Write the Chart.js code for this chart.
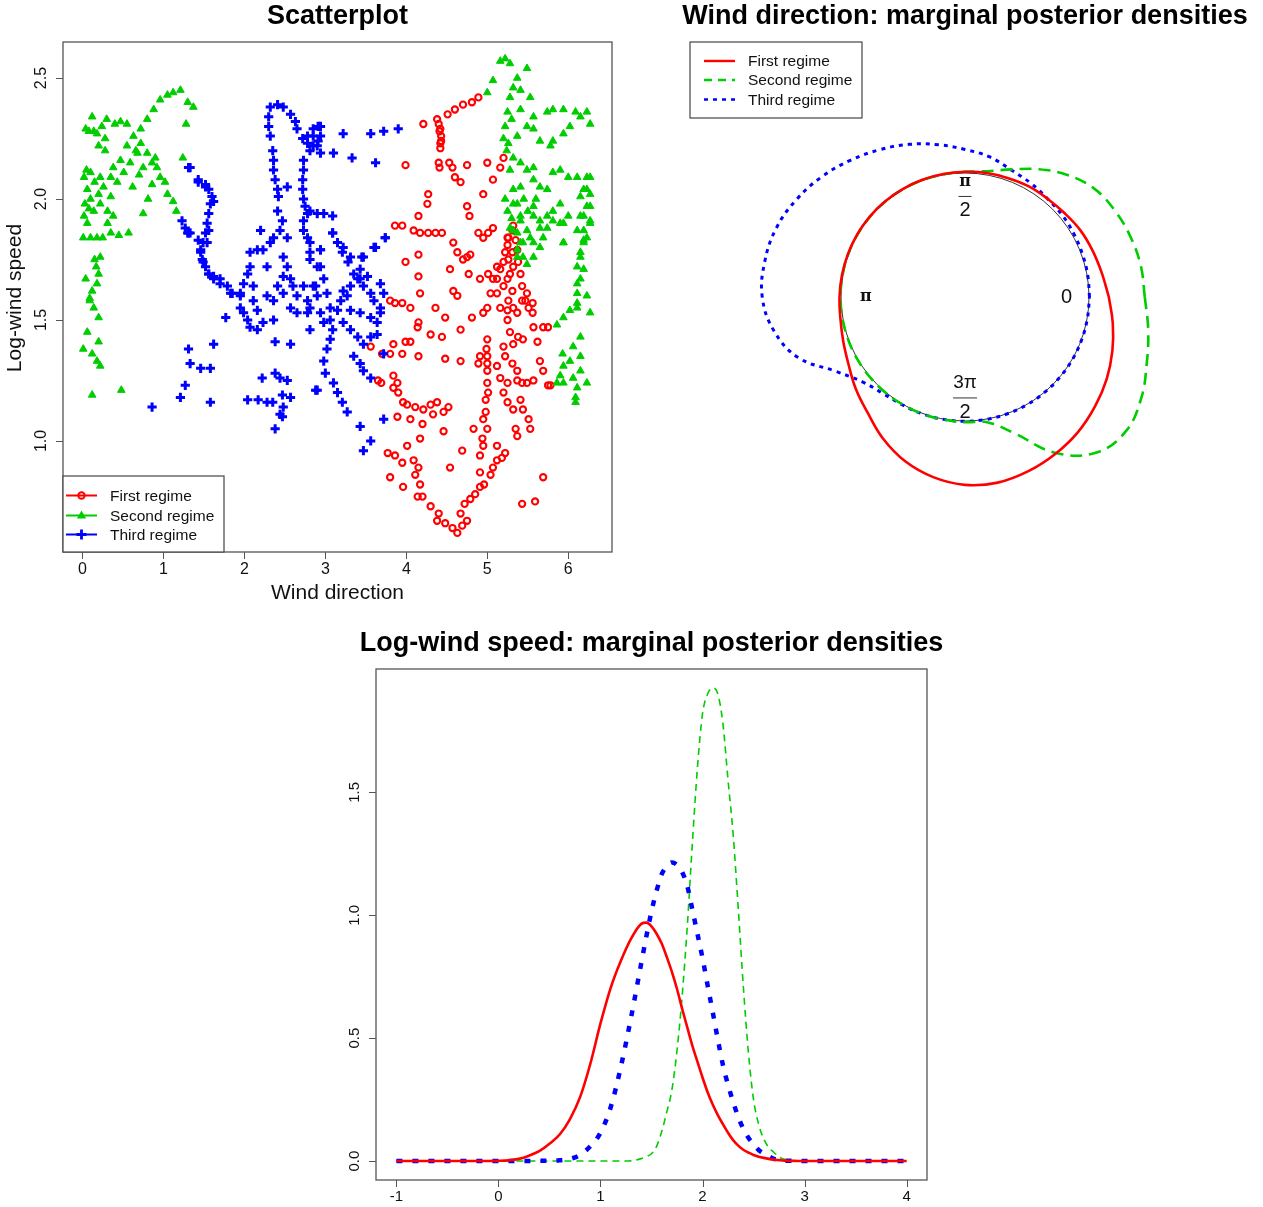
<!DOCTYPE html>
<html lang="en">
<head>
<meta charset="UTF-8">
<title>Wind regimes</title>
<style>
  body { margin: 0; background: #fff; }
  #page { position: relative; width: 1263px; height: 1207px; }
  canvas { position: absolute; }
  #scatter { left: 0; top: 0; width: 640px; height: 620px; }
  #dirDens { left: 640px; top: 0; width: 623px; height: 620px; }
  #speedDens { left: 0; top: 620px; width: 1263px; height: 587px; }
</style>
</head>
<body>
<div id="page">
  <canvas id="scatter" width="640" height="620"></canvas>
  <canvas id="dirDens" width="623" height="620"></canvas>
  <canvas id="speedDens" width="1263" height="587"></canvas>
</div>
<script src="https://cdn.jsdelivr.net/npm/chart.js@4.4.1/dist/chart.umd.min.js"></script>
<script>
// scatterplot: [wind direction, log-wind speed]
const firstRegime = [
  [4.21,2.31],[4.38,2.33],[4.51,2.35],[4.60,2.37],[4.70,2.39],[4.81,2.40],[4.89,2.42],
  [4.40,2.31],[4.42,2.29],[4.43,2.26],[4.42,2.23],[4.42,2.21],[4.41,2.28],[4.43,2.24],
  [3.99,2.14],[4.40,2.15],[4.41,2.13],[4.53,2.15],[4.57,2.13],[4.60,2.09],[4.67,2.07],[4.75,2.14],[5.00,2.15],[5.16,2.13],[5.07,2.08],[5.20,2.17],[4.95,2.02],[4.27,2.02],[4.26,1.98],[4.75,1.97],[4.78,1.93],[4.15,1.93],
  [3.86,1.89],[3.95,1.89],[4.09,1.87],[4.17,1.86],[4.27,1.86],[4.36,1.86],[4.44,1.86],[4.58,1.82],[4.63,1.78],[4.70,1.75],[4.75,1.76],[4.79,1.77],[4.89,1.86],[4.95,1.84],[5.01,1.86],[5.07,1.88],
  [4.15,1.77],[3.99,1.74],[4.15,1.68],[4.54,1.71],[4.77,1.69],[4.91,1.67],[5.01,1.69],[4.17,1.61],[4.58,1.62],[4.63,1.60],
  [3.80,1.58],[3.86,1.57],[3.95,1.57],[4.05,1.55],[4.36,1.55],[4.15,1.49],[4.14,1.47],[4.48,1.51],[4.81,1.51],[4.67,1.46],[4.30,1.44],[4.44,1.43],[3.99,1.41],[4.05,1.41],[3.84,1.40],[3.56,1.39],[3.95,1.36],[4.15,1.35],[4.48,1.34],[4.67,1.33],[4.89,1.32],[5.00,1.32],[3.80,1.36],
  [3.69,1.24],[3.84,1.27],[3.89,1.24],[3.84,1.22],[3.90,1.20],[3.96,1.16],[4.01,1.15],[4.11,1.14],[4.21,1.13],[4.30,1.15],[4.38,1.16],[4.46,1.12],[4.52,1.14],[3.89,1.10],[4.05,1.09],[4.20,1.07],[4.33,1.11],[4.46,1.04],[4.17,1.01],[4.01,0.98],[3.77,0.95],[3.86,0.94],[3.95,0.91],[4.09,0.92],[4.15,0.89],[3.80,0.85],[3.96,0.81],[4.11,0.86],[4.17,0.82],[4.14,0.77],[4.20,0.77],[4.54,0.89],[4.69,0.96],
  [4.30,0.73],[4.40,0.70],[4.38,0.67],[4.48,0.66],[4.57,0.64],[4.63,0.62],[4.69,0.65],[4.75,0.67],[4.67,0.70],[4.72,0.74],[4.79,0.76],[4.85,0.78],[4.91,0.81],[4.91,0.87],[4.96,0.82],[5.04,0.86],[5.07,0.89],[5.12,0.92],[5.18,0.93],[5.22,0.95],[4.91,0.94],[4.95,0.98],[5.12,0.98],[5.43,0.74],[5.59,0.75],[5.69,0.85],
  [5.12,1.67],[5.16,1.71],[5.20,1.74],[5.22,1.78],[5.25,1.81],[5.26,1.84],[5.31,1.87],[5.32,1.89],[5.35,1.83],[5.37,1.79],[5.38,1.74],[5.41,1.69],[5.43,1.64],[5.47,1.58],[5.51,1.55],[5.56,1.53],[5.57,1.47],[5.31,1.62],[5.26,1.58],[5.25,1.54],[5.25,1.50],[5.28,1.45],[5.32,1.40],[5.38,1.43],[5.44,1.42],[5.20,1.39],[5.22,1.35],[5.31,1.32],[5.37,1.29],[5.37,1.25],[5.43,1.24],[5.49,1.24],[5.57,1.25],[5.25,1.24],[5.16,1.26],[5.12,1.31],[5.20,1.20],[5.25,1.16],[5.32,1.13],[5.41,1.17],[5.44,1.13],[5.51,1.09],[5.53,1.05],[5.35,1.05],[5.37,1.02],[5.65,1.33],[5.69,1.29],[5.78,1.23],[5.75,1.23],[5.69,1.47],[5.75,1.47],[5.62,1.41],[5.00,1.05],[4.83,1.05],[4.94,1.01],
  [5.00,1.42],[4.99,1.38],[5.00,1.35],[5.00,1.29],[5.00,1.24],[5.01,1.20],[4.98,1.17],[4.98,1.12],[4.95,1.09],[4.91,1.35],
  [5.07,1.67],[5.04,1.61],[5.00,1.55],[4.95,1.53],[5.12,1.61],[5.16,1.55],[5.20,1.64],[5.12,1.72],[5.25,1.67],[5.26,1.75],[5.25,1.84],[5.31,1.78],[5.28,1.69],[5.32,1.72],[5.43,1.58],[5.49,1.61],[5.56,1.57],[5.32,1.55],[5.37,1.53],
  [3.65,1.25],[3.70,1.36]
];
const secondRegime = [
  [0.12,2.34],[0.04,2.29],[0.08,2.28],[0.18,2.27],[0.30,2.33],[0.47,2.32],[0.55,2.31],[0.02,2.09],[0.10,2.11],[0.22,2.09],[0.06,2.04],[0.02,1.93],[0.06,1.90],[0.01,1.84],[0.18,1.84],[0.35,1.86],[0.57,1.86],[0.22,1.76],[0.20,1.69],[0.04,1.67],[0.18,1.65],[0.09,1.59],
  [0.26,2.05],[0.35,2.09],[0.38,2.13],[0.47,2.16],[0.55,2.22],[0.63,2.26],[0.72,2.29],[0.80,2.33],[0.88,2.37],[0.96,2.41],[1.05,2.43],[1.12,2.44],[1.21,2.45],[1.30,2.40],[1.37,2.38],[1.28,2.31],[1.24,2.17],
  [0.72,2.23],[0.80,2.19],[0.86,2.15],[0.92,2.13],[0.96,2.09],[1.02,2.07],[0.86,2.06],[0.81,2.00],[0.75,1.94],[1.12,1.99],[1.16,1.95],[0.75,2.13],[0.68,2.19],[0.59,2.15],[0.51,2.11],[0.43,2.07],[0.35,2.01],[0.31,1.95],[0.38,1.93],[0.31,1.90],[0.22,1.98],[0.14,1.95],[0.10,2.00],
  [0.20,1.51],[0.06,1.45],[0.01,1.38],[0.12,1.36],[0.20,1.41],[0.18,1.33],[0.22,1.31],[0.12,1.19],[0.48,1.21],[0.09,1.58],
  [0.10,1.84],[0.25,1.84],[0.45,1.85],[0.15,1.75],[0.17,1.72],[0.14,1.55],[0.12,1.62],[0.03,1.98],[0.14,2.28],[0.24,2.30],[0.28,2.25],[0.40,2.31],[0.66,2.20],[0.90,2.17],[1.05,2.02],[0.62,2.05],[0.70,2.10],
  [0.05,2.12],[0.15,2.07],[0.20,2.02],[0.08,1.96],[0.28,2.20],[0.20,2.22],
  [5.16,2.57],[5.22,2.58],[5.28,2.56],[5.07,2.49],[5.00,2.44],[5.49,2.54],[5.37,2.50],[5.32,2.46],[5.28,2.42],[5.41,2.45],[5.53,2.42],[5.25,2.36],[5.41,2.37],[5.57,2.34],[5.74,2.36],[5.81,2.37],[5.94,2.37],[6.09,2.36],[6.23,2.36],[6.27,2.31],[6.15,2.34],[6.02,2.30],[5.94,2.27],[5.81,2.24],[5.78,2.22],[5.65,2.24],[5.57,2.29],[5.49,2.30],[5.37,2.26],[5.26,2.23],[5.32,2.17],[5.28,2.12],[5.41,2.15],[5.49,2.12],[5.57,2.13],[5.57,2.08],[5.65,2.05],[5.74,2.04],[5.81,2.11],[5.90,2.12],[6.00,2.09],[6.11,2.09],[6.27,2.09],[6.23,2.04],[6.15,2.01],[6.23,1.97],[6.19,1.93],[6.27,1.90],[6.11,1.87],[6.23,1.84],[6.00,1.93],[5.90,1.98],[5.81,1.95],[5.94,1.90],[5.74,1.93],[5.65,1.88],[5.57,1.93],[5.49,1.87],[5.41,1.93],[5.32,1.98],[5.32,2.04],[5.41,2.05],[5.32,1.87],[5.41,1.82],[5.37,1.76],[5.57,1.82],[5.65,1.80],[5.57,1.76],[5.49,1.73],[5.94,1.82],[6.19,1.82],[6.15,1.76],[6.19,1.71],[6.11,1.65],[6.23,1.60],[6.11,1.57],
  [6.11,1.72],[6.15,1.67],[6.11,1.61],[6.27,1.53],[6.11,1.55],[6.02,1.54],[5.94,1.51],[5.86,1.48],[6.15,1.43],[5.93,1.36],[6.06,1.39],[6.15,1.35],[6.02,1.33],[6.15,1.29],[6.06,1.26],[5.94,1.24],[5.86,1.24],[6.11,1.22],[6.23,1.24],[6.09,1.18],[6.09,1.16],[5.94,1.31],[5.90,1.27],
  [5.37,1.98],[5.41,1.91],[5.44,1.82],[5.44,1.76],[5.53,1.84],[5.57,1.97],[5.65,1.91],[5.74,1.88],[5.81,1.91],[5.90,1.90],[5.94,1.82],[5.69,1.84],[5.37,1.86],[5.28,1.88],[5.37,1.79],
  [6.15,1.78],[6.19,1.83],[6.19,1.87],[6.27,1.91],[6.27,1.97],[6.27,2.02],[6.15,1.93],[6.19,2.04],[6.23,2.09],
  [5.22,2.30],[5.20,2.25],[5.24,2.20],[5.30,2.33],[5.22,2.00],[5.25,1.95],[5.30,1.92],[5.45,2.00],[5.50,1.95],[5.60,2.00]
];
const thirdRegime = [
  [2.32,2.38],[2.41,2.39],[2.48,2.38],[2.57,2.35],[2.63,2.32],[2.65,2.29],[2.72,2.25],[2.78,2.23],[2.85,2.26],[2.91,2.30],[2.94,2.26],[2.90,2.22],[2.81,2.20],[2.30,2.34],[2.30,2.30],[2.32,2.26],[2.35,2.20],[2.36,2.16],[2.36,2.12],[2.38,2.08],[2.41,2.04],[2.42,2.01],[2.41,1.95],[2.47,1.91],[2.53,2.05],[2.73,2.16],[2.73,2.12],[2.72,2.08],[2.72,2.04],[2.73,2.00],[2.75,1.97],[2.78,1.94],[2.81,1.95],[2.90,1.94],[2.98,1.94],[3.09,1.93],[2.73,1.91],[2.73,1.87],[2.78,1.84],[2.81,1.82],[2.81,1.78],[2.81,1.75],[2.94,1.79],[3.09,1.86],[3.15,1.82],[3.21,1.78],[3.28,1.74],[3.35,1.69],[3.43,1.67],[3.47,1.64],[3.56,1.61],[3.60,1.58],[3.68,1.55],[3.68,1.53],[3.74,1.84],[3.62,1.80],[3.47,1.76],[3.40,1.67],[3.31,1.64],[3.22,1.62],[3.19,1.58],[3.15,1.54],[3.22,1.49],[3.31,1.46],[3.40,1.43],[3.47,1.40],[3.56,1.43],[3.64,1.44],[3.35,1.35],[3.43,1.32],[3.47,1.29],[3.56,1.26],[3.72,1.36],[3.72,1.09],[3.43,1.06],[3.56,1.00],[3.47,0.96],
  [2.90,1.72],[2.98,1.67],[3.02,1.61],[3.06,1.55],[3.06,1.50],[3.09,1.46],[3.06,1.42],[3.02,1.38],[2.98,1.33],[3.00,1.28],[3.10,1.24],[3.15,1.20],[3.21,1.16],[3.27,1.12],[2.90,1.21],[2.78,1.53],[2.81,1.55],[2.90,1.60],[2.85,1.64],[2.94,1.53],[2.98,1.49],[3.27,1.60],[3.31,1.54],[3.43,1.53],[3.56,1.51],[3.64,1.49],
  [2.07,1.78],[2.16,1.79],[2.23,1.79],[2.32,1.82],[2.36,1.84],[2.44,1.87],[2.53,1.84],[2.20,1.87],[2.07,1.72],[2.04,1.69],[1.99,1.65],[1.95,1.61],[1.95,1.55],[1.99,1.53],[2.04,1.50],[2.07,1.47],[2.16,1.46],[2.23,1.49],[2.36,1.50],[2.11,1.64],[2.11,1.58],[2.16,1.54],[2.28,1.60],[2.36,1.58],[2.41,1.64],[2.48,1.68],[2.53,1.72],[2.57,1.67],[2.60,1.64],[2.65,1.60],[2.73,1.64],[2.78,1.58],[2.48,1.61],[2.57,1.55],[2.65,1.53],[2.48,1.76],[2.28,1.72],
  [1.77,1.51],[1.85,1.61],[1.79,1.64],[1.70,1.67],[1.62,1.68],[1.56,1.69],[1.52,1.72],[1.48,1.75],[1.46,1.79],[1.43,1.83],[1.33,1.86],[1.27,1.88],[1.23,1.91],[1.49,1.82],[1.52,1.86],[1.54,1.90],[1.56,1.94],[1.58,1.98],[1.60,2.01],[1.56,2.04],[1.52,2.06],[1.43,2.08],[1.33,2.13],[1.31,1.86],
  [1.31,2.13],[1.43,2.07],[1.52,2.05],[1.62,1.99],[1.30,1.86],[1.46,1.78],[1.54,1.82],[1.56,1.87],[1.49,1.74],[1.56,1.69],[1.62,1.67],[1.70,1.65],[1.83,1.61],[1.95,1.60],
  [0.86,1.14],[1.21,1.18],[1.27,1.23],[1.31,1.38],[1.33,1.32],[1.46,1.30],[1.58,1.30],[1.62,1.40],[1.58,1.16],[2.04,1.17],[2.17,1.17],[2.28,1.16],[2.35,1.16],[2.22,1.26],[2.38,1.28],[2.44,1.26],[2.53,1.25],[2.47,1.19],[2.57,1.18],[2.48,1.14],[2.44,1.11],[2.47,1.10],[2.38,1.05],[2.38,1.41],[2.57,1.40],[2.88,1.21],[2.81,1.46],
  [3.22,2.27],[3.56,2.27],[3.72,2.28],[3.90,2.29],[3.10,2.19],[3.33,2.17],[3.62,2.15],[2.78,2.26],[2.85,2.29],[2.94,2.30],[2.91,2.24],[2.94,2.19],[2.85,2.22],
  [3.74,1.84],[3.60,1.80],[3.45,1.76],[3.09,1.86],[3.22,1.80],[3.31,1.76],[3.43,1.71],[3.52,1.68],[3.68,1.65],[3.72,1.61],[2.94,1.79],[2.94,1.72],[2.88,1.64]
];

// wind direction: radius of each density curve (unit circle = 1) at each angle in degrees
const dirAngles = [0,10,20,30,40,50,60,70,80,90,100,110,120,130,140,150,160,170,180,
                   190,200,210,220,230,240,250,260,270,280,290,300,310,320,330,340,350,360];
const firstDirRadius = [1.16,1.12,1.095,1.075,1.05,1.035,1.03,1.02,1.015,1.01,1.008,1.006,1.005,1.005,1.005,1.005,1.006,1.008,1.012,
                        1.02,1.045,1.085,1.15,1.22,1.32,1.41,1.475,1.515,1.52,1.495,1.46,1.42,1.37,1.32,1.265,1.21,1.16];
const secondDirRadius = [1.45,1.44,1.42,1.395,1.36,1.285,1.19,1.095,1.03,1.01,1.005,1.003,1.003,1.003,1.003,1.003,1.003,1.003,1.003,
                         1.003,1.003,1.003,1.003,1.003,1.003,1.003,1.004,1.01,1.025,1.17,1.45,1.64,1.69,1.64,1.56,1.50,1.45];
const thirdDirRadius = [1.004,1.005,1.008,1.015,1.025,1.035,1.06,1.09,1.147,1.19,1.247,1.31,1.372,1.439,1.508,1.57,1.62,1.64,1.635,
                        1.565,1.43,1.20,1.07,1.02,1.006,1.003,1.002,1.002,1.002,1.002,1.002,1.002,1.002,1.002,1.002,1.002,1.004];

// log-wind speed densities
const speedGrid = [-1.0,-0.75,-0.5,-0.25,0.0,0.1,0.2,0.3,0.4,0.5,0.6,0.7,0.8,0.9,1.0,1.1,1.2,1.3,1.4,
                   1.45,1.5,1.55,1.6,1.65,1.7,1.75,1.8,1.85,1.9,1.95,2.0,2.05,2.1,2.15,2.2,2.25,2.3,2.35,2.4,
                   2.45,2.5,2.55,2.6,2.65,2.7,2.75,2.8,2.85,2.9,3.0,3.25,3.5,3.75,4.0];
const firstSpeedDens = [0,0,0,0,0.001,0.003,0.009,0.022,0.040,0.070,0.108,0.170,0.260,0.395,0.560,0.705,0.815,0.905,0.965,
                        0.970,0.955,0.925,0.885,0.830,0.770,0.700,0.620,0.545,0.470,0.405,0.340,0.280,0.230,0.187,0.150,0.115,0.085,0.063,0.046,
                        0.035,0.025,0.018,0.013,0.009,0.006,0.004,0.002,0.0015,0.001,0,0,0,0,0];
const secondSpeedDens = [0,0,0,0,0,0,0,0,0,0,0,0,0,0,0,0,0,0.001,0.010,
                         0.018,0.030,0.060,0.120,0.200,0.290,0.450,0.670,0.950,1.290,1.600,1.820,1.900,1.925,1.900,1.780,1.550,1.330,1.030,0.710,
                         0.440,0.250,0.150,0.090,0.055,0.035,0.017,0.007,0.003,0.001,0,0,0,0,0];
const thirdSpeedDens = [0,0,0,0,0,0,0,0,0.001,0.001,0.003,0.009,0.025,0.060,0.115,0.219,0.384,0.585,0.806,
                        0.915,1.016,1.100,1.167,1.200,1.215,1.205,1.176,1.120,1.024,0.925,0.826,0.715,0.606,0.495,0.391,0.310,0.241,0.180,0.131,
                        0.095,0.068,0.045,0.031,0.020,0.009,0.005,0.002,0.001,0.001,0,0,0,0,0];

// ticks and names
const dirTicks = [0, 1, 2, 3, 4, 5, 6];
const speedTicks = [1.0, 1.5, 2.0, 2.5];
const densXTicks = [-1, 0, 1, 2, 3, 4];
const densYTicks = [0.0, 0.5, 1.0, 1.5];
const regimeNames = ['First regime', 'Second regime', 'Third regime'];

const RED = '#ff0000', GREEN = '#00cd00', BLUE = '#0000ff';
const SANS = '"Liberation Sans", Arial, Helvetica, sans-serif';

function drawMarker(ctx, kind, x, y, color) {
  ctx.save();
  ctx.strokeStyle = color; ctx.fillStyle = color;
  if (kind === 'circle') {
    ctx.lineWidth = 2;
    ctx.beginPath(); ctx.arc(x, y, 3.2, 0, Math.PI * 2); ctx.stroke();
  } else if (kind === 'triangle') {
    ctx.beginPath(); ctx.moveTo(x, y - 5); ctx.lineTo(x + 4.6, y + 3); ctx.lineTo(x - 4.6, y + 3);
    ctx.closePath(); ctx.fill();
  } else if (kind === 'cross') {
    ctx.lineWidth = 2.8;
    ctx.beginPath(); ctx.moveTo(x - 5, y); ctx.lineTo(x + 5, y); ctx.moveTo(x, y - 5); ctx.lineTo(x, y + 5); ctx.stroke();
  }
  ctx.restore();
}

// R-like frame, axes, titles and legends drawn on top of Chart.js scales
const rFrame = {
  id: 'rFrame',
  beforeDatasetsDraw(chart, args, o) {
    if (!o.unitCircle) return;
    const ctx = chart.ctx, xs = chart.scales.x, ys = chart.scales.y;
    const cx = xs.getPixelForValue(0), cy = ys.getPixelForValue(0);
    const r = xs.getPixelForValue(1) - cx;
    ctx.save();
    ctx.strokeStyle = '#333'; ctx.lineWidth = 1;
    ctx.beginPath(); ctx.arc(cx, cy, r, 0, Math.PI * 2); ctx.stroke();
    ctx.restore();
  },
  afterDatasetsDraw(chart, args, o) {
    const ctx = chart.ctx, a = chart.chartArea, xs = chart.scales.x, ys = chart.scales.y;
    ctx.save();
    ctx.fillStyle = '#111';
    ctx.textAlign = 'center'; ctx.textBaseline = 'middle';
    if (o.box) {
      ctx.strokeStyle = '#555'; ctx.lineWidth = 1.3;
      ctx.strokeRect(a.left, a.top, a.right - a.left, a.bottom - a.top);
    }
    if (o.xTicks) {
      ctx.strokeStyle = '#555'; ctx.lineWidth = 1;
      ctx.beginPath();
      o.xTicks.forEach(v => {
        const p = Math.round(xs.getPixelForValue(v)) + 0.5;
        ctx.moveTo(p, a.bottom); ctx.lineTo(p, a.bottom + 7);
      });
      ctx.stroke();
      ctx.font = o.tickFont;
      o.xTicks.forEach((v, i) => ctx.fillText(o.xLabels[i], xs.getPixelForValue(v), a.bottom + o.xGap));
    }
    if (o.yTicks) {
      ctx.strokeStyle = '#555'; ctx.lineWidth = 1;
      ctx.beginPath();
      o.yTicks.forEach(v => {
        const p = Math.round(ys.getPixelForValue(v)) + 0.5;
        ctx.moveTo(a.left, p); ctx.lineTo(a.left - 7, p);
      });
      ctx.stroke();
      ctx.font = o.tickFont;
      o.yTicks.forEach((v, i) => {
        ctx.save();
        ctx.translate(a.left - o.yGap, ys.getPixelForValue(v));
        ctx.rotate(-Math.PI / 2);
        ctx.fillText(o.yLabels[i], 0, 0);
        ctx.restore();
      });
    }
    if (o.title) {
      ctx.fillStyle = '#000';
      ctx.font = 'bold 27px ' + SANS;
      ctx.fillText(o.title.text, o.title.x, o.title.y);
      ctx.fillStyle = '#111';
    }
    if (o.xTitle) {
      ctx.font = '21px ' + SANS;
      ctx.fillText(o.xTitle.text, o.xTitle.x, o.xTitle.y);
    }
    if (o.yTitle) {
      ctx.font = '21px ' + SANS;
      ctx.save();
      ctx.translate(o.yTitle.x, o.yTitle.y);
      ctx.rotate(-Math.PI / 2);
      ctx.fillText(o.yTitle.text, 0, 0);
      ctx.restore();
    }
    if (o.angleMarks) {
      o.angleMarks.forEach(m => {
        const px = xs.getPixelForValue(m.x), py = ys.getPixelForValue(m.y);
        if (m.bar) {
          ctx.strokeStyle = '#333'; ctx.lineWidth = 1;
          ctx.beginPath(); ctx.moveTo(px - m.bar / 2, py + 0.5); ctx.lineTo(px + m.bar / 2, py + 0.5); ctx.stroke();
        } else {
          ctx.font = m.font;
          ctx.fillText(m.text, px, py);
        }
      });
    }
    if (o.legend) {
      const L = o.legend;
      ctx.fillStyle = '#fff';
      ctx.fillRect(L.x, L.y, L.w, L.h);
      ctx.strokeStyle = '#444'; ctx.lineWidth = 1.2;
      ctx.strokeRect(L.x, L.y, L.w, L.h);
      ctx.font = L.font; ctx.textAlign = 'left';
      L.items.forEach((it, i) => {
        const y = L.rowY[i];
        ctx.save();
        ctx.strokeStyle = it.color; ctx.lineWidth = it.width;
        ctx.setLineDash(it.dash || []);
        ctx.beginPath(); ctx.moveTo(L.lineX0, y); ctx.lineTo(L.lineX1, y); ctx.stroke();
        ctx.restore();
        if (it.marker) drawMarker(ctx, it.marker, (L.lineX0 + L.lineX1) / 2, y, it.color);
        ctx.fillStyle = '#111';
        ctx.fillText(it.label, L.textX, y + 1);
      });
    }
    ctx.restore();
  }
};

const baseOptions = {
  responsive: false,
  animation: false,
  devicePixelRatio: 1,
  events: []
};

// ---------- scatterplot ----------
const toPoints = arr => arr.map(p => ({ x: p[0], y: p[1] }));
new Chart(document.getElementById('scatter'), {
  type: 'scatter',
  data: {
    datasets: [
      { label: regimeNames[2], data: toPoints(thirdRegime), pointStyle: 'cross', pointRadius: 4.6,
        borderColor: BLUE, backgroundColor: BLUE, pointBorderWidth: 3 },
      { label: regimeNames[1], data: toPoints(secondRegime), pointStyle: 'triangle', pointRadius: 4.4,
        borderColor: GREEN, backgroundColor: GREEN, pointBorderWidth: 1 },
      { label: regimeNames[0], data: toPoints(firstRegime), pointStyle: 'circle', pointRadius: 3.1,
        borderColor: RED, backgroundColor: 'rgba(255,255,255,0)', pointBorderWidth: 2.1 }
    ]
  },
  options: Object.assign({}, baseOptions, {
    layout: { padding: { left: 63, top: 42, right: 28, bottom: 68 } },
    scales: {
      x: { type: 'linear', display: false, min: -0.24, max: 6.54 },
      y: { type: 'linear', display: false, min: 0.541, max: 2.649 }
    },
    plugins: {
      legend: { display: false },
      tooltip: { enabled: false },
      rFrame: {
        box: true,
        xTicks: dirTicks, xLabels: dirTicks.map(String), xGap: 18,
        yTicks: speedTicks, yLabels: speedTicks.map(v => v.toFixed(1)), yGap: 21,
        tickFont: '16px ' + SANS,
        title: { text: 'Scatterplot', x: 337.5, y: 17 },
        xTitle: { text: 'Wind direction', x: 337.5, y: 593 },
        yTitle: { text: 'Log-wind speed', x: 15, y: 298 },
        legend: {
          x: 63, y: 476, w: 161, h: 76, font: '15.5px ' + SANS,
          lineX0: 66, lineX1: 97, textX: 110, rowY: [495.5, 515.5, 534.5],
          items: [
            { label: regimeNames[0], color: RED, width: 2, marker: 'circle' },
            { label: regimeNames[1], color: GREEN, width: 2, marker: 'triangle' },
            { label: regimeNames[2], color: BLUE, width: 2, marker: 'cross' }
          ]
        }
      }
    }
  }),
  plugins: [rFrame]
});

// ---------- wind direction densities (circular) ----------
const polar = radii => dirAngles.map((deg, i) => ({
  x: radii[i] * Math.cos(deg * Math.PI / 180),
  y: radii[i] * Math.sin(deg * Math.PI / 180)
}));
new Chart(document.getElementById('dirDens'), {
  type: 'scatter',
  data: {
    datasets: [
      { label: regimeNames[0], data: polar(firstDirRadius), showLine: true, pointRadius: 0,
        borderColor: RED, borderWidth: 2.6, tension: 0.4 },
      { label: regimeNames[1], data: polar(secondDirRadius), showLine: true, pointRadius: 0,
        borderColor: GREEN, borderWidth: 2.6, borderDash: [12, 7], tension: 0.4 },
      { label: regimeNames[2], data: polar(thirdDirRadius), showLine: true, pointRadius: 0,
        borderColor: BLUE, borderWidth: 3, borderDash: [4, 5], tension: 0.4 }
    ]
  },
  options: Object.assign({}, baseOptions, {
    layout: { padding: { left: 77, top: 49, right: 50, bottom: 75 } },
    scales: {
      x: { type: 'linear', display: false, min: -2, max: 2 },
      y: { type: 'linear', display: false, min: -2, max: 2 }
    },
    plugins: {
      legend: { display: false },
      tooltip: { enabled: false },
      rFrame: {
        unitCircle: true,
        title: { text: 'Wind direction: marginal posterior densities', x: 325, y: 17 },
        angleMarks: [
          { text: '\u03c0', x: 0, y: 0.93, font: 'bold 16px "DejaVu Serif", serif' },
          { bar: 13, x: 0, y: 0.815 },
          { text: '2', x: 0, y: 0.70, font: '20px ' + SANS },
          { text: '\u03c0', x: -0.8, y: 0, font: 'bold 16px "DejaVu Serif", serif' },
          { text: '0', x: 0.82, y: 0, font: '20px ' + SANS },
          { text: '3\u03c0', x: 0, y: -0.69, font: '19px ' + SANS },
          { bar: 24, x: 0, y: -0.81 },
          { text: '2', x: 0, y: -0.93, font: '20px ' + SANS }
        ],
        legend: {
          x: 50, y: 42, w: 172, h: 76, font: '15.5px ' + SANS,
          lineX0: 64, lineX1: 95, textX: 108, rowY: [61, 80, 99.5],
          items: [
            { label: regimeNames[0], color: RED, width: 2.4 },
            { label: regimeNames[1], color: GREEN, width: 2.4, dash: [8, 6] },
            { label: regimeNames[2], color: BLUE, width: 2.6, dash: [4, 5] }
          ]
        }
      }
    }
  }),
  plugins: [rFrame]
});

// ---------- log-wind speed densities ----------
const curve = dens => speedGrid.map((v, i) => ({ x: v, y: dens[i] }));
new Chart(document.getElementById('speedDens'), {
  type: 'scatter',
  data: {
    datasets: [
      { label: regimeNames[0], data: curve(firstSpeedDens), showLine: true, pointRadius: 0,
        borderColor: RED, borderWidth: 2.6, cubicInterpolationMode: 'monotone' },
      { label: regimeNames[2], data: curve(thirdSpeedDens), showLine: true, pointRadius: 0,
        borderColor: BLUE, borderWidth: 4.5, borderDash: [6, 10], cubicInterpolationMode: 'monotone' },
      { label: regimeNames[1], data: curve(secondSpeedDens), showLine: true, pointRadius: 0,
        borderColor: GREEN, borderWidth: 1.6, borderDash: [7, 5], cubicInterpolationMode: 'monotone' }
    ]
  },
  options: Object.assign({}, baseOptions, {
    layout: { padding: { left: 376, top: 49, right: 336, bottom: 27 } },
    scales: {
      x: { type: 'linear', display: false, min: -1.2, max: 4.2 },
      y: { type: 'linear', display: false, min: -0.077, max: 2.002 }
    },
    plugins: {
      legend: { display: false },
      tooltip: { enabled: false },
      rFrame: {
        box: true,
        xTicks: densXTicks, xLabels: densXTicks.map(String), xGap: 17,
        yTicks: densYTicks, yLabels: densYTicks.map(v => v.toFixed(1)), yGap: 21,
        tickFont: '15px ' + SANS,
        title: { text: 'Log-wind speed: marginal posterior densities', x: 651.5, y: 24 }
      }
    }
  }),
  plugins: [rFrame]
});
</script>
</body>
</html>
